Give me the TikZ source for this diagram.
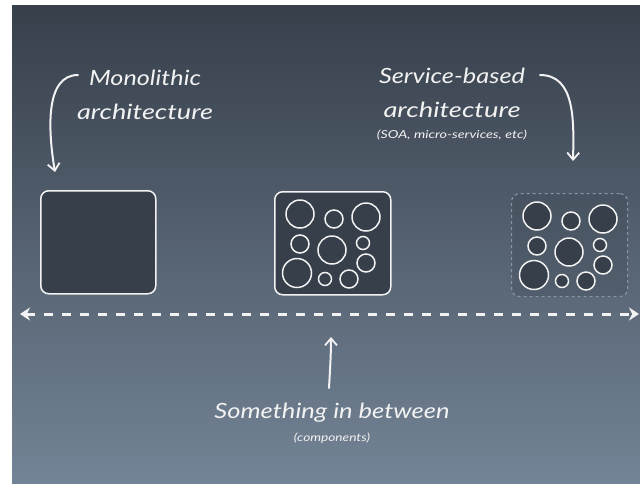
\documentclass[tikz,border=0pt]{standalone}
\usepackage{fontspec}
\usepackage{graphicx}
\setmainfont{Lato}
\usetikzlibrary{arrows.meta}

\definecolor{bgtop}{HTML}{373F4B}
\definecolor{bgmid}{HTML}{586475}
\definecolor{bgbot}{HTML}{738496}
\definecolor{boxfill}{HTML}{363F4A}
\definecolor{chalk}{HTML}{F2F2F2}
\definecolor{dashgray}{HTML}{8A94A2}

% stretch a line of text to a given width, keeping its height
\newcommand{\wline}[2]{\resizebox{#1}{\height}{#2}}

\tikzset{
  hand/.style={text=chalk, inner sep=0pt, align=center},
  bigtext/.style={hand, font=\fontsize{21}{34}\selectfont\itshape},
  smalltext/.style={hand, font=\fontsize{11}{13}\selectfont\itshape},
  solidbox/.style={draw=chalk, line width=1.5pt, fill=boxfill, rounded corners=8pt,
    minimum width=115pt, minimum height=103pt, anchor=north west, inner sep=0pt},
  dashbox/.style={draw=dashgray, line width=1.2pt, dash pattern=on 3pt off 3pt,
    fill=boxfill, fill opacity=0.25, rounded corners=8pt,
    minimum width=116pt, minimum height=103pt, anchor=north west, inner sep=0pt},
  bubble/.style={draw=chalk, line width=1.5pt, fill=boxfill},
  chalkarrow/.style={draw=chalk, line width=2pt, line cap=round,
    -{Straight Barb[length=7pt,width=12pt,line width=1.8pt]}},
  axis/.style={draw=chalk, line width=3pt, dash pattern=on 9pt off 9pt,
    {Stealth[length=10pt,width=13pt]}-{Stealth[length=10pt,width=13pt]}},
  bubbles/.pic={
    \foreach \cx/\cy/\r in {26/23/14, 60/28/9, 92/26/14, 26/53/9, 58/59/14,
                            89/52/6.5, 92/72/9, 23/82/14.5, 51/88/6.5, 75/88/9}
      \draw[bubble] (\cx,\cy) circle[radius=\r];
  }
}

\begin{document}
\begin{tikzpicture}[x=1pt,y=-1pt]
\useasboundingbox (0,0) rectangle (640,483);
\fill[white] (0,0) rectangle (640,483);
\shade[top color=bgtop, middle color=bgmid, bottom color=bgbot] (12,5) rectangle (640,483);

% three architecture styles
\node[solidbox] (mono) at (40,190) {};
\node[solidbox, minimum width=116pt] (comp) at (274,191) {};
\pic at (comp.north west) {bubbles};
\node[dashbox] (svc) at (511,193) {};
\pic at (svc.north west) {bubbles};

% spectrum axis
\coordinate (axisL) at (20,314);
\coordinate (axisR) at (639,314);
\draw[axis] (axisL) -- (axisR);

% labels
\node[bigtext] (monoT) at (145,95) {\wline{112pt}{Monolithic}\\\wline{136pt}{architecture}};
\node[bigtext] (svcT) at (452,93) {\wline{146pt}{Service-based}\\\wline{137pt}{architecture}};
\node[smalltext] (svcSub) at (452,135) {\wline{150pt}{(SOA, micro-services, etc)}};
\node[bigtext] (midT) at (332,413) {\wline{235pt}{Something in between}};
\node[smalltext] (midSub) at (332,438) {\wline{76pt}{(components)}};

% pointers
\coordinate (monoS) at (78,75);
\coordinate (monoE) at (55,172);
\draw[chalkarrow] (monoS) .. controls (45,75) and (48,130) .. (monoE);
\coordinate (svcS) at (540,75);
\coordinate (svcE) at (573,161);
\draw[chalkarrow] (svcS) .. controls (575,75) and (574,120) .. (svcE);
\coordinate (midS) at (329,388);
\coordinate (midE) at (331,337);
\draw[chalkarrow] (midS) .. controls (330,370) and (331,355) .. (midE);
\end{tikzpicture}
\end{document}
